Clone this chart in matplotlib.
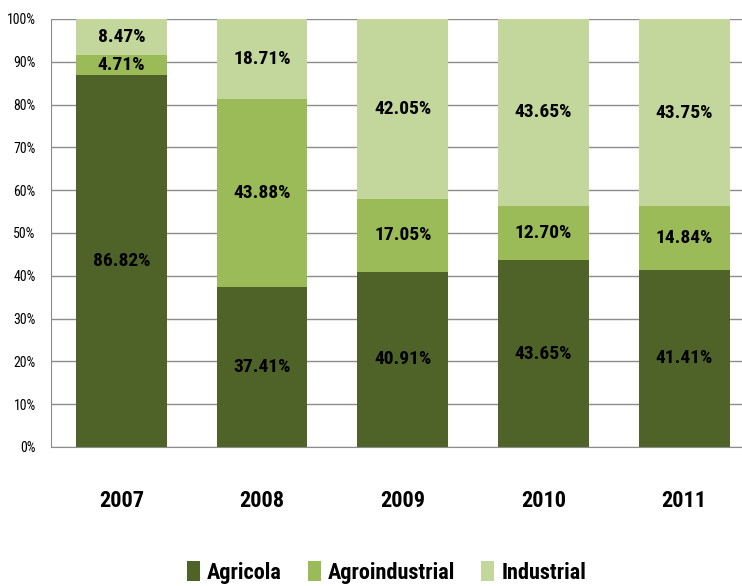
import matplotlib.pyplot as plt
import numpy as np
from matplotlib import font_manager

years = ['2007', '2008', '2009', '2010', '2011']
agricola = [86.82, 37.41, 40.91, 43.65, 41.41]
agroindustrial = [4.71, 43.88, 17.05, 12.70, 14.84]
industrial = [8.47, 18.71, 42.05, 43.65, 43.75]

names = set(f.name for f in font_manager.fontManager.ttflist)
fam = 'DejaVu Sans'
for cand in ['Liberation Sans Narrow', 'Roboto Condensed', 'Open Sans Condensed', 'Liberation Sans']:
    if cand in names:
        fam = cand
        break
plt.rcParams['font.family'] = [fam, 'DejaVu Sans']

colors = ['#4F6228', '#9BBB59', '#C3D69B']
series = [('Agricola', agricola), ('Agroindustrial', agroindustrial), ('Industrial', industrial)]

fig = plt.figure(figsize=(7.42, 5.86), dpi=100)
ax = fig.add_axes([51 / 742, 1 - 447 / 586, 703.5 / 742, 428 / 586])

x = np.arange(len(years))
bottom = np.zeros(len(years))
for (name, vals), c in zip(series, colors):
    vals = np.array(vals)
    ax.bar(x, vals, 0.645, bottom=bottom, color=c, label=name, zorder=2)
    for xi, b, v in zip(x, bottom, vals):
        ax.text(xi, b + v / 2, '%.2f%%' % v, ha='center', va='center',
                fontsize=14, fontweight='bold', color='black', zorder=3)
    bottom += vals

ax.set_xlim(-0.5, len(years) - 0.5)
ax.set_ylim(0, 100)
ax.set_yticks(np.arange(0, 101, 10))
ax.set_yticklabels(['%d%%' % v for v in range(0, 101, 10)], fontsize=10)
ax.set_xticks(x)
ax.set_xticklabels(years, fontsize=16, fontweight='bold')
ax.tick_params(axis='y', length=0, pad=11)
ax.tick_params(axis='x', length=0, pad=31)
ax.grid(axis='y', color='#8c8c8c', linewidth=1, zorder=0)
for s in ['top', 'right']:
    ax.spines[s].set_visible(False)
ax.spines['left'].set_color('#8c8c8c')
ax.spines['bottom'].set_color('#8c8c8c')

fig.legend(loc='lower center', bbox_to_anchor=(0.521, -0.03), ncol=3, frameon=False,
           prop={'size': 16, 'weight': 'bold'}, handlelength=0.59, handleheight=0.95,
           handletextpad=0.32, columnspacing=1.17)

fig.savefig('out.png', dpi=100)
